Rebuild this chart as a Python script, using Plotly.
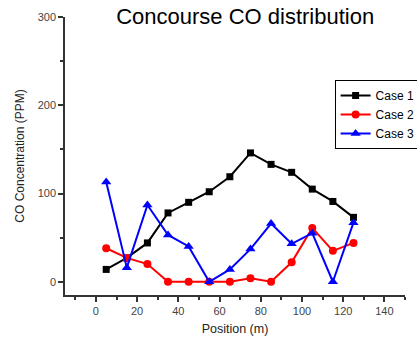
import plotly.graph_objects as go

# Sampling positions along the concourse (m)
positions = [5, 15, 25, 35, 45, 55, 65, 75, 85, 95, 105, 115, 125]

# CO concentration (PPM) for each case
case1 = [14, 27, 44, 78, 90, 102, 119, 146, 133, 124, 105, 91, 73]
case2 = [38, 27, 20, 0, 0, 0, 0, 4, 0, 22, 61, 35, 44]
case3 = [113, 16, 87, 53, 40, 0, 14, 37, 66, 43, 55, 0, 67]

x_ticks = [0, 20, 40, 60, 80, 100, 120, 140]
y_ticks = [0, 100, 200, 300]

font_family = "Liberation Sans, Arial, sans-serif"

fig = go.Figure()
fig.add_trace(go.Scatter(
    x=positions, y=case1, name="Case 1", mode="lines+markers",
    line=dict(color="black", width=2),
    marker=dict(symbol="square", size=7, color="black"),
))
fig.add_trace(go.Scatter(
    x=positions, y=case2, name="Case 2", mode="lines+markers",
    line=dict(color="#ff0000", width=2),
    marker=dict(symbol="circle", size=8, color="#ff0000"),
))
fig.add_trace(go.Scatter(
    x=positions, y=case3, name="Case 3", mode="lines+markers",
    line=dict(color="#0000ff", width=2),
    marker=dict(symbol="triangle-up", size=9, color="#0000ff"),
))

fig.update_layout(
    width=417, height=337,
    margin=dict(l=65, r=12, t=17, b=42, autoexpand=False),
    paper_bgcolor="white", plot_bgcolor="white",
    font=dict(family=font_family, color="#222"),
    title=dict(text="Concourse CO distribution", x=0.588, xanchor="center",
               y=0.975, yanchor="top",
               font=dict(size=22, color="black", family=font_family)),
    legend=dict(x=0.793, y=0.773, xanchor="left", yanchor="top",
                bordercolor="black", borderwidth=1, bgcolor="white",
                font=dict(size=12, color="black"), tracegroupgap=0,
                itemwidth=30),
    showlegend=True,
)
fig.update_xaxes(
    range=[-15, 150], tickvals=x_ticks, showgrid=False, zeroline=False,
    showline=True, linecolor="#333", linewidth=1.5,
    ticks="outside", ticklen=5, tickcolor="#333", tickwidth=1.5,
    minor=dict(dtick=10, tick0=0, ticks="outside", ticklen=3, tickcolor="#333", tickwidth=1.5),
    tickfont=dict(size=11, color="#444"),
    title=dict(text="Position (m)", font=dict(size=12.5, color="#222"), standoff=8),
)
fig.update_yaxes(
    range=[-15, 300], tickvals=y_ticks, showgrid=False, zeroline=False,
    showline=True, linecolor="#333", linewidth=1.5,
    ticks="outside", ticklen=5, tickcolor="#333", tickwidth=1.5,
    minor=dict(dtick=50, tick0=0, ticks="outside", ticklen=3, tickcolor="#333", tickwidth=1.5),
    tickfont=dict(size=11, color="#444"),
    title=dict(text="CO Concentration (PPM)", font=dict(size=12, color="#222"), standoff=10),
)

fig.write_html("out.html")
